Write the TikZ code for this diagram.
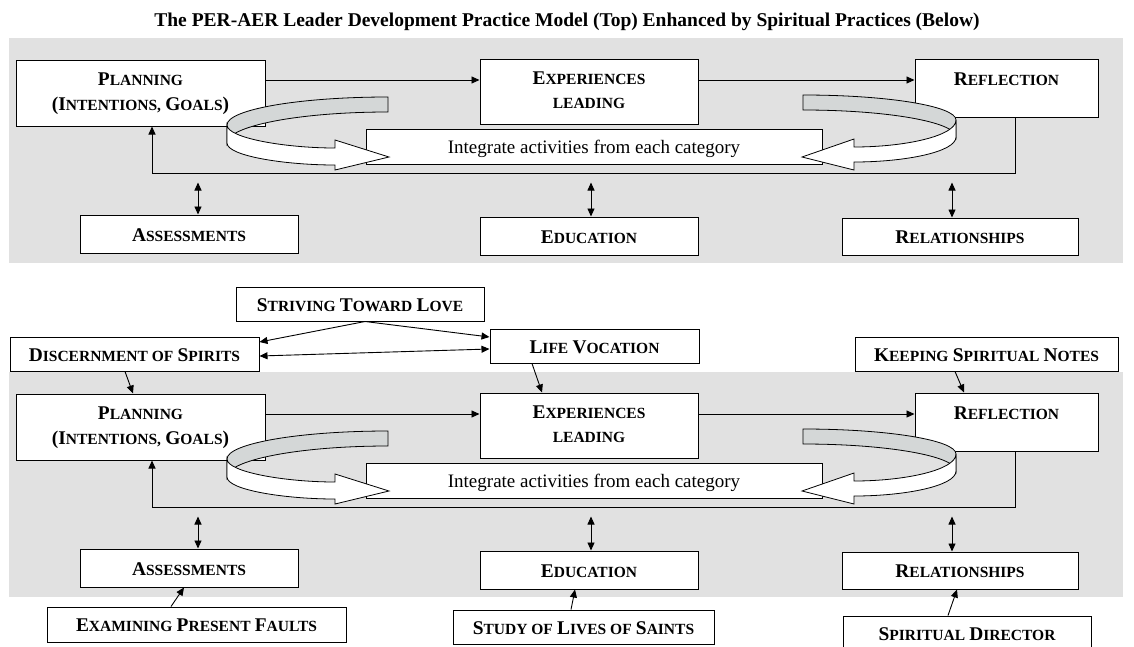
\documentclass[tikz,border=0pt]{standalone}
\usepackage{fontspec}
\setmainfont{Liberation Serif}
\usetikzlibrary{arrows.meta}
\definecolor{bgc}{RGB}{225,225,225}
\definecolor{bandc}{RGB}{212,215,215}
\newcommand\Bg[1]{{\fontsize{19.4pt}{22pt}\selectfont #1}}
\newcommand\Sm[1]{{\fontsize{15.5pt}{18pt}\selectfont #1}}
\tikzset{
  box/.style={draw, fill=white, line width=1pt, inner sep=0pt, font=\bfseries\fontsize{17pt}{20pt}\selectfont, text height=14pt, text depth=0pt},
  lbl/.style={inner sep=0pt, anchor=base, font=\bfseries\fontsize{17pt}{20pt}\selectfont},
  arr/.style={-{Triangle[length=8pt,width=7pt]}, line width=0.9pt},
  fb/.style={-{Triangle[length=8pt,width=7pt]}, line width=1pt},
  darr/.style={{Triangle[length=8pt,width=7pt]}-{Triangle[length=8pt,width=7pt]}, line width=0.9pt},
  rib/.style={draw, line width=0.8pt},
}
\newcommand\PERpanel[2]{%
\begin{scope}[shift={(0,#2)}]
\fill[bgc] (9,38) rectangle (1123,263);
\node[box, minimum width=249pt, minimum height=66pt] (#1plan) at (140.5,93) {};
\node[box, minimum width=218pt, minimum height=65pt] (#1exp) at (589,91.5) {};
\node[box, minimum width=183pt, minimum height=58pt] (#1refl) at (1006.5,88) {};
\draw[fb] ([xshift=8.5pt]#1refl.south) -- ++(0,56) -| ([xshift=11.5pt]#1plan.south);
\node[box, minimum width=456pt, minimum height=35pt] (#1integ) at (594,146.5) {\fontsize{19pt}{22pt}\mdseries\selectfont Integrate activities from each category};
\node[box, minimum width=218pt, minimum height=38pt] (#1assess) at (189,234) {\Bg{A}\Sm{SSESSMENTS}};
\node[box, minimum width=218pt, minimum height=38pt] (#1educ) at (589,236) {\Bg{E}\Sm{DUCATION}};
\node[box, minimum width=236pt, minimum height=37pt] (#1rel) at (960,236.5) {\Bg{R}\Sm{ELATIONSHIPS}};
\node[lbl] (#1planA) at (140.5,85) {\Bg{P}\Sm{LANNING}};
\node[lbl] (#1planB) at (140.5,110) {\Bg{(I}\Sm{NTENTIONS,} \Bg{G}\Sm{OALS}\Bg{)}};
\node[lbl] (#1expA) at (589,84) {\Bg{E}\Sm{XPERIENCES}};
\node[lbl] (#1expB) at (589,108) {\Sm{LEADING}};
\node[lbl] (#1reflA) at (1006.5,85) {\Bg{R}\Sm{EFLECTION}};
\draw[arr] ([yshift=13pt]#1plan.east) -- ([yshift=11.5pt]#1exp.west);
\draw[arr] ([yshift=11.5pt]#1exp.east) -- ([yshift=8pt]#1refl.west);
\draw[darr] ([xshift=9pt]#1assess.north) -- ++(0,-32);
\draw[darr] ([xshift=2pt]#1educ.north) -- ++(0,-34);
\draw[darr] ([xshift=-8pt]#1rel.north) -- ++(0,-35);
% left ribbon
\path[rib, fill=bandc] (388,97) .. controls (299,97) and (227,109.5) .. (227,125) -- (227,143) .. controls (227,126) and (299,112) .. (388,112) -- cycle;
\path[rib, fill=white] (227,125) -- (227,143) .. controls (227,156) and (285,165) .. (335,165) -- (335,170) -- (389,157) -- (335,140) -- (335,148) .. controls (285,148) and (227,138) .. (227,125) -- cycle;
% right ribbon
\path[rib, fill=bandc] (803,95) .. controls (887,95) and (956,106) .. (956,120) -- (956,137) .. controls (956,122) and (887,110) .. (803,110) -- cycle;
\path[rib, fill=white] (956,120) -- (956,137) .. controls (956,152) and (905,162) .. (854,162) -- (854,170) -- (802,157) -- (854,139) -- (854,147) .. controls (905,147) and (956,136) .. (956,120) -- cycle;
\end{scope}}
\begin{document}
\begin{tikzpicture}[x=1pt,y=-1pt]
\path[use as bounding box, fill=white] (0,0) rectangle (1134,646);
\node[anchor=base, inner sep=0pt, font=\bfseries\fontsize{19.5pt}{22pt}\selectfont] (title) at (567,26) {The PER-AER Leader Development Practice Model (Top) Enhanced by Spiritual Practices (Below)};
\PERpanel{t}{0}
\PERpanel{b}{334}
\node[box, minimum width=248pt, minimum height=34pt] (striv) at (360,304) {\Bg{S}\Sm{TRIVING} \Bg{T}\Sm{OWARD} \Bg{L}\Sm{OVE}};
\node[box, minimum width=249pt, minimum height=34pt] (disc) at (134.5,354) {\Bg{D}\Sm{ISCERNMENT OF} \Bg{S}\Sm{PIRITS}};
\node[box, minimum width=209pt, minimum height=34pt] (life) at (594.5,346) {\Bg{L}\Sm{IFE} \Bg{V}\Sm{OCATION}};
\node[box, minimum width=263pt, minimum height=34pt] (keep) at (986.5,354) {\Bg{K}\Sm{EEPING} \Bg{S}\Sm{PIRITUAL} \Bg{N}\Sm{OTES}};
\node[box, minimum width=299pt, minimum height=35pt] (exam) at (196.5,624.5) {\Bg{E}\Sm{XAMINING} \Bg{P}\Sm{RESENT} \Bg{F}\Sm{AULTS}};
\node[box, minimum width=261pt, minimum height=34pt] (study) at (583.5,627) {\Bg{S}\Sm{TUDY OF} \Bg{L}\Sm{IVES OF} \Bg{S}\Sm{AINTS}};
\node[box, minimum width=248pt, minimum height=34pt] (sdir) at (967,633) {\Bg{S}\Sm{PIRITUAL} \Bg{D}\Sm{IRECTOR}};
\draw[arr] ([xshift=5pt]striv.south) -- ([yshift=12pt]disc.east);
\draw[arr] ([xshift=5pt]striv.south) -- ([yshift=9pt]life.west);
\draw[darr] ([yshift=-2pt]disc.east) -- ([yshift=-3pt]life.west);
\draw[arr] ([xshift=-9.5pt]disc.south) -- ([xshift=-7.5pt]bplan.north);
\draw[arr] ([xshift=-62.5pt]life.south) -- ([xshift=-47pt]bexp.north);
\draw[arr] ([xshift=-31.5pt]keep.south) -- ([xshift=-42.5pt]brefl.north);
\draw[arr] ([xshift=-25.5pt]exam.north) -- ([xshift=-5pt]bassess.south);
\draw[arr] ([xshift=-12.5pt]study.north) -- ([xshift=-14pt]beduc.south);
\draw[arr] ([xshift=-19pt]sdir.north) -- ([xshift=-3pt]brel.south);
\end{tikzpicture}
\end{document}
